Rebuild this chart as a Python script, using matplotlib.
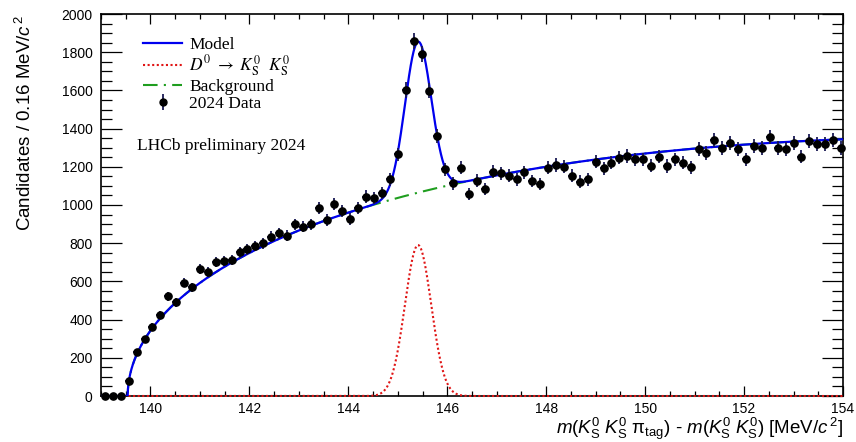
import numpy as np
import matplotlib
matplotlib.use("Agg")
import matplotlib.pyplot as plt
from matplotlib.font_manager import FontProperties
from matplotlib.lines import Line2D
from matplotlib.ticker import MultipleLocator

# ---------------- data ----------------
bin_lo = 139.0
bin_width = 0.16
counts = [0, 0, 0, 80, 232, 297, 363, 422, 522, 490,
          593, 569, 665, 651, 703, 708, 712, 752, 768, 785,
          799, 834, 852, 838, 899, 886, 899, 983, 921, 1004,
          970, 927, 986, 1044, 1035, 1064, 1134, 1265, 1602, 1860,
          1789, 1598, 1361, 1188, 1114, 1195, 1058, 1127, 1084, 1174,
          1166, 1154, 1134, 1171, 1126, 1110, 1195, 1209, 1201, 1152,
          1122, 1134, 1227, 1192, 1222, 1248, 1257, 1239, 1239, 1206,
          1253, 1204, 1239, 1222, 1197, 1292, 1271, 1340, 1297, 1326,
          1293, 1239, 1309, 1297, 1358, 1297, 1293, 1326, 1253, 1335,
          1319, 1319, 1340, 1297]

# fitted model parameters
threshold = 139.54
bkg_a, bkg_b, bkg_c = 517.0, -12.6, -8.0
sig_amp, sig_mean, sig_sigma = 790.0, 145.41, 0.265

x_range = (139.0, 154.0)
y_range = (0, 2000)
x_major = [140, 142, 144, 146, 148, 150, 152, 154]
y_major = [0, 200, 400, 600, 800, 1000, 1200, 1400, 1600, 1800, 2000]

labels = ["Model", r"$D^0\ \rightarrow\ K^0_{\mathrm{S}}\ \ K^0_{\mathrm{S}}$",
          "Background", "2024 Data"]

# ---------------- model ----------------
def background(m):
    d = np.clip(np.asarray(m) - threshold, 0, None)
    return bkg_a * np.sqrt(d) + bkg_b * d + bkg_c * d ** 1.5

def signal(m):
    return sig_amp * np.exp(-0.5 * ((np.asarray(m) - sig_mean) / sig_sigma) ** 2)

counts = np.array(counts, dtype=float)
centers = bin_lo + bin_width * (np.arange(len(counts)) + 0.5)
errors = np.sqrt(counts)

grid = np.linspace(x_range[0], x_range[1], 3000)

# ---------------- figure ----------------
plt.rcParams["mathtext.fontset"] = "custom"
plt.rcParams["mathtext.rm"] = "Liberation Sans"
plt.rcParams["mathtext.it"] = "Liberation Sans:italic"
plt.rcParams["mathtext.bf"] = "Liberation Sans:bold"

W, H = 856, 442
fig = plt.figure(figsize=(W / 100, H / 100), dpi=100)
L, R, T, B = 101, 843, 14, 396
ax = fig.add_axes([L / W, 1 - B / H, (R - L) / W, (B - T) / H])

red = "#e01515"
blue = "#0000ee"
green = "#1f9e1f"

ax.plot(grid, signal(grid), color=red, ls=(0, (1, 1.2)), lw=1.5, zorder=3,
        clip_on=False)
ax.plot(grid, background(grid), color=green, ls=(0, (7, 3, 1, 3)), lw=1.5, zorder=3)
ax.plot(grid, background(grid) + signal(grid), color=blue, lw=1.6, zorder=4)

ax.errorbar(centers, counts, yerr=errors, xerr=bin_width / 2, fmt="o",
            color="black", ecolor="#1a1a55", elinewidth=1.3, ms=5.2,
            capsize=0, zorder=5, clip_on=False)

ax.set_xlim(*x_range)
ax.set_ylim(*y_range)
ax.set_xticks(x_major)
ax.set_yticks(y_major)
ax.xaxis.set_minor_locator(MultipleLocator(0.5))
ax.yaxis.set_minor_locator(MultipleLocator(50))
ax.tick_params(which="both", direction="in", top=True, right=True, width=0.9,
               labelsize=10, pad=6)
ax.tick_params(axis="x", which="major", length=7.2, pad=4.5)
ax.tick_params(axis="x", which="minor", length=3.6)
ax.tick_params(axis="y", which="major", length=15)
ax.tick_params(axis="y", which="minor", length=7.9)
for lab in ax.get_xticklabels() + ax.get_yticklabels():
    lab.set_family("Liberation Sans")
for s in ax.spines.values():
    s.set_linewidth(1.2)

ax.set_ylabel("Candidates / 0.16 MeV/$c^{\,2}$", fontsize=13.5,
              family="Liberation Sans", loc="top")
ax.yaxis.set_label_coords((35 - L) / (R - L), 1.0)
ax.set_xlabel(r"$m(K^0_{\mathrm{S}}\ K^0_{\mathrm{S}}\ \mathrm{\pi}_{\mathrm{tag}})$ - "
              r"$m(K^0_{\mathrm{S}}\ K^0_{\mathrm{S}})$ [MeV/$c^{\,2}$]",
              fontsize=13.5, family="Liberation Sans", loc="right")
ax.xaxis.set_label_coords(1.0, -(416 - B) / (B - T))

serif = FontProperties(family="Liberation Serif", size=12.5, math_fontfamily="stix")
h_model = Line2D([], [], color=blue, lw=1.6)
h_sig = Line2D([], [], color=red, lw=1.5, ls=(0, (1, 1.2)))
h_bkg = Line2D([], [], color=green, lw=1.5, ls=(0, (7, 3, 1, 3)))
h_dat = (Line2D([], [], color="#1a1a55", marker="|", ms=11, mew=1.3, ls="none"),
         Line2D([], [], color="black", marker="o", ms=5, ls="none"))
leg = ax.legend([h_model, h_sig, h_bkg, h_dat], labels, prop=serif, frameon=False,
                loc="upper left", bbox_to_anchor=(143 / W, 1 - 37 / H),
                bbox_transform=fig.transFigure, borderpad=0, borderaxespad=0,
                handlelength=2.25, handletextpad=0.4, labelspacing=0.03)

fig.text(137 / W, 1 - 146 / H, "LHCb preliminary 2024", fontproperties=serif,
         va="center", ha="left")

fig.savefig("out.png", dpi=100)
